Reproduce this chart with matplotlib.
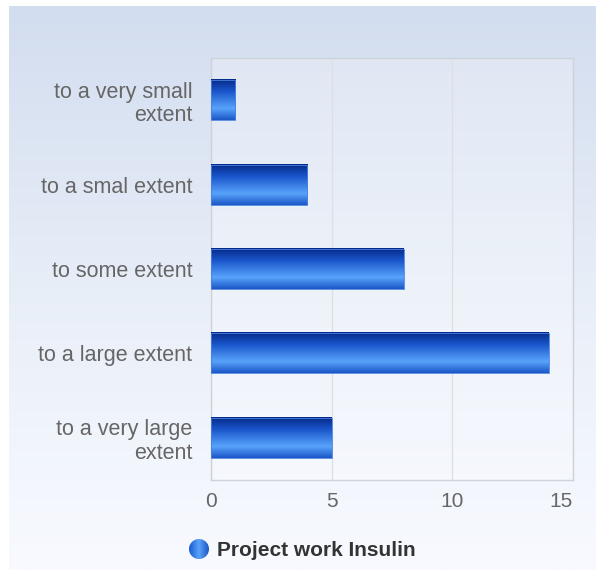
import numpy as np
import matplotlib.pyplot as plt
from matplotlib.colors import LinearSegmentedColormap

plt.rcParams['font.family'] = ['Liberation Sans', 'DejaVu Sans']

# data, top to bottom
categories = ["to a very small\nextent", "to a smal extent", "to some extent",
              "to a large extent", "to a very large\nextent"]
values = [1, 4, 8, 14, 5]
series_name = "Project work Insulin"
x_ticks = [0, 5, 10, 15]

bar_cmap = LinearSegmentedColormap.from_list(
    "bar", [(0.0, "#062a88"), (0.3, "#1a56cc"), (0.72, "#58a3fb"), (1.0, "#1c58c8")])
bg_cmap = LinearSegmentedColormap.from_list("bg", ["#d2ddef", "#e8eef8", "#f8faff"])

fig = plt.figure(figsize=(5.96, 5.70), dpi=100)
fig.patch.set_facecolor("white")

# page background gradient
bg = fig.add_axes([0.015, 0.0, 0.985, 0.99])
bg.imshow(np.linspace(0, 1, 256).reshape(-1, 1), aspect="auto", cmap=bg_cmap,
          extent=[0, 1, 0, 1], origin="upper")
bg.axis("off")

ax = fig.add_axes([0.354, 0.158, 0.607, 0.74])
ax.set_facecolor((1, 1, 1, 0.25))

grad = np.linspace(0, 1, 64).reshape(-1, 1)
h = 0.475
ypos = np.arange(len(categories))
bars = ax.barh(ypos, values, height=h, color="none", edgecolor="none")
for b in bars:
    x0, y0 = b.get_x(), b.get_y()
    w, bh = b.get_width(), b.get_height()
    ax.imshow(grad, aspect="auto", cmap=bar_cmap, origin="upper",
              extent=[x0, x0 + w, y0 + bh, y0], zorder=3)
    ax.add_patch(plt.Rectangle((x0, y0), w, bh, fill=False,
                               edgecolor="#4a82e0", lw=0.6, zorder=4))
ax.set_xlim(0, 15)
ax.set_ylim(len(categories) - 0.5, -0.5)

ax.set_xticks(x_ticks)
ax.set_xticklabels([str(t) for t in x_ticks], fontsize=15, color="#666666")
ax.get_xticklabels()[-1].set_horizontalalignment("right")
ax.set_yticks(ypos)
ax.set_yticklabels(categories, fontsize=15.5, color="#666666", linespacing=1.15)
ax.tick_params(length=0)
ax.tick_params(axis="y", pad=13.5)
ax.tick_params(axis="x", pad=9)
ax.grid(axis="x", color="#dcdfe4", lw=0.9, zorder=0)
ax.set_axisbelow(True)
for s in ax.spines.values():
    s.set_color("#cfd3d9")
    s.set_linewidth(1.0)

# legend
leg_ax = fig.add_axes([0.0, 0.0, 1.0, 1.0], facecolor="none")
leg_ax.set_xlim(0, 596)
leg_ax.set_ylim(570, 0)
leg_ax.axis("off")
mk = leg_ax.imshow(np.linspace(0, 1, 64).reshape(1, -1), aspect="auto",
                   cmap=LinearSegmentedColormap.from_list("m", ["#1a5bd0", "#5aa2fa", "#1d56c4"]),
                   extent=[189, 209, 559, 539], zorder=5)
circ = plt.Circle((199, 549), 10, transform=leg_ax.transData)
mk.set_clip_path(circ)
leg_ax.text(217, 550, series_name, fontsize=15, fontweight="bold",
            color="#333333", va="center", ha="left")

fig.savefig("out.png", dpi=100)
